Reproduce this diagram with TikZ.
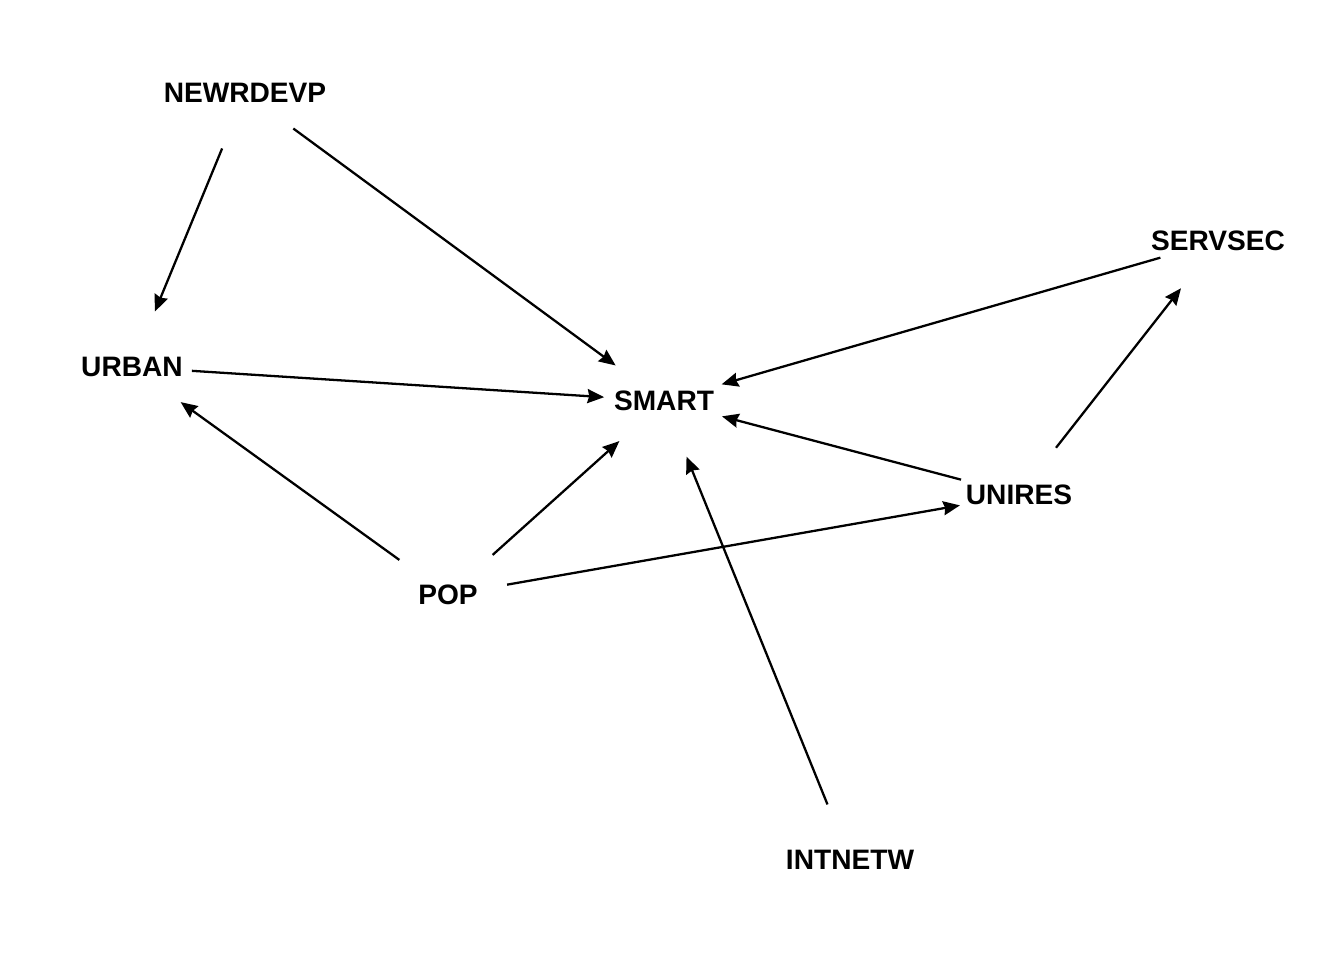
\documentclass[tikz,border=0pt]{standalone}
\usepackage{fontspec}
\setmainfont{Liberation Sans}
\usetikzlibrary{arrows.meta}
\newcommand{\vname}[1]{\makebox[0pt]{#1}}

\begin{document}
\begin{tikzpicture}[x=0.02cm, y=-0.02cm]
          % Setup the style for the variables
          \tikzset{var style/.style={circle,
                                     minimum size=2.4cm,
                                     inner sep=0pt,
                                     outer sep=0pt,
                                     font=\fontsize{16}{18}\selectfont\bfseries}}
          \useasboundingbox (0,0) rectangle (1344,960);
          % Draw the variables
          \node[var style] at (245, 93)  (newrdevp) {\vname{NEWRDEVP}};
          \node[var style] at (132, 367) (urban)    {\vname{URBAN}};
          \node[var style] at (664, 401) (smart)    {\vname{SMART}};
          \node[var style] at (1218, 241) (servsec) {\vname{SERVSEC}};
          \node[var style] at (1019, 495) (unires)  {\vname{UNIRES}};
          \node[var style] at (448, 595) (pop)      {\vname{POP}};
          \node[var style] at (850, 860) (intnetw)  {\vname{INTNETW}};
          % Connect the variables with arrows
          \draw[line width=1.3pt,
                -{Stealth[length=9.5pt, width=8pt, inset=1pt]}]
              (newrdevp) edge (urban)
              (newrdevp) edge (smart)
              (urban)    edge (smart)
              (pop)      edge (urban)
              (pop)      edge (smart)
              (pop)      edge (unires)
              (servsec)  edge (smart)
              (unires)   edge (smart)
              (unires)   edge (servsec)
              (intnetw)  edge (smart);
\end{tikzpicture}
\end{document}
